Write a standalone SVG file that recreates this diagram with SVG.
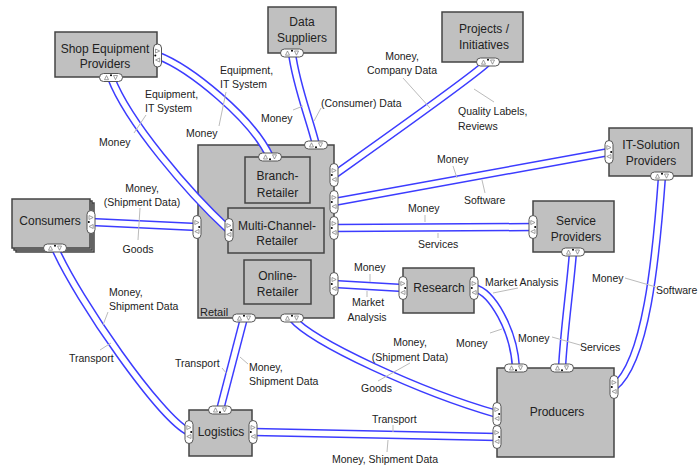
<svg xmlns="http://www.w3.org/2000/svg" xmlns:xlink="http://www.w3.org/1999/xlink" width="700" height="465" viewBox="0 0 700 465">
<style>
.n{fill:#c0c0c0;stroke:#444;stroke-width:1.5}
.t{font-family:"Liberation Sans",Arial,sans-serif;font-size:12px;fill:#222;text-anchor:middle}
.l{font-family:"Liberation Sans",Arial,sans-serif;font-size:10.5px;fill:#222}
.m{text-anchor:middle}
.ld{stroke:#bbb;stroke-width:1;fill:none}
.co{stroke:#3c3cff;stroke-width:8.5;fill:none}
.ci{stroke:#fff;stroke-width:5.5;fill:none}
.p{fill:#fff;stroke:#555;stroke-width:1}
.tr{fill:#fff;stroke:#777;stroke-width:0.7}
</style>
<defs>
<g id="pv">
<rect class="p" x="-4" y="-11.5" width="8" height="23" rx="4"/>
<polygon class="tr" points="-2,-6.5 2.2,-4.5 -2,-2.5"/>
<polygon class="tr" points="2.2,2.5 -2,4.5 2.2,6.5"/>
<circle cx="-2.2" cy="0" r="1" fill="#000"/>
</g>
<path id="p1" d="M157.5,55.5 C190,68 252,118 270,157"/>
<path id="p2" d="M111,77.5 C128,122 188,192 229,230"/>
<path id="p3" d="M292,53 C296,85 310,120 316,145"/>
<path id="p4" d="M488,62 C474,76 362,155 334,175"/>
<path id="p5" d="M334,202 L609,152"/>
<path id="p6" d="M334,228 L533,227"/>
<path id="p7" d="M334,284 L403,288"/>
<path id="p8" d="M474,288 C492,292 514,330 516,368"/>
<path id="p9" d="M573,252 C570,290 564,330 562,368"/>
<path id="p10" d="M662,176 C656,260 646,362 614,387"/>
<path id="p11" d="M91,222 L197,227"/>
<path id="p12" d="M55,248 C78,300 160,418 189,432"/>
<path id="p13" d="M244,318 L220,410"/>
<path id="p14" d="M292,318 C312,342 420,392 497,414"/>
<path id="p15" d="M253,432 L497,437"/>
</defs>
<rect width="700" height="465" fill="#fff"/>

<g id="retail">
<rect class="n" x="198" y="145" width="136" height="173"/>
<text x="200" y="316" font-family="Liberation Sans, Arial, sans-serif" font-size="11" fill="#222">Retail</text>
</g>
<g id="branch-retailer">
<rect class="n" x="245" y="157" width="65" height="46"/>
<text class="t" x="277.5" y="179.5">Branch-</text>
<text class="t" x="277.5" y="196.5">Retailer</text>
</g>
<g id="multi-channel-retailer">
<rect class="n" x="228" y="208" width="96" height="45"/>
<text class="t" x="277" y="229.5">Multi-Channel-</text>
<text class="t" x="277" y="244.5">Retailer</text>
</g>
<g id="online-retailer">
<rect class="n" x="244" y="260" width="67" height="44"/>
<text class="t" x="277.5" y="279.5">Online-</text>
<text class="t" x="277.5" y="295.5">Retailer</text>
</g>
<g id="shop-equipment-providers">
<rect class="n" x="55" y="32" width="102" height="45"/>
<text class="t" x="105" y="52.5">Shop Equipment</text>
<text class="t" x="105" y="68">Providers</text>
</g>
<g id="data-suppliers">
<rect class="n" x="268" y="7" width="68" height="46"/>
<text class="t" x="302" y="26">Data</text>
<text class="t" x="302" y="41.5">Suppliers</text>
</g>
<g id="projects-initiatives">
<rect class="n" x="442" y="12" width="81" height="50"/>
<text class="t" x="484" y="33">Projects /</text>
<text class="t" x="484" y="48.5">Initiatives</text>
</g>
<g id="it-solution-providers">
<rect class="n" x="609" y="128" width="83" height="48"/>
<text class="t" x="651" y="149">IT-Solution</text>
<text class="t" x="651" y="165">Providers</text>
</g>
<g id="service-providers">
<rect class="n" x="533" y="201" width="81" height="51"/>
<text class="t" x="576" y="225">Service</text>
<text class="t" x="576" y="241">Providers</text>
</g>
<g id="research">
<rect class="n" x="403" y="268" width="71" height="45"/>
<text class="t" x="439" y="292">Research</text>
</g>
<g id="producers">
<rect class="n" x="497" y="368" width="117" height="89"/>
<text class="t" x="557" y="416">Producers</text>
</g>
<g id="logistics">
<rect class="n" x="189" y="410" width="63" height="46"/>
<text class="t" x="221" y="436">Logistics</text>
</g>
<g id="consumers">
<rect class="n" x="16" y="203" width="78" height="49"/>
<rect class="n" x="14" y="201" width="78" height="49"/>
<rect class="n" x="12" y="199" width="78" height="49"/>
<text class="t" x="50" y="225">Consumers</text>
</g>

<g id="connectors">
<use href="#p1" class="co"/><use href="#p1" class="ci"/>
<use href="#p2" class="co"/><use href="#p2" class="ci"/>
<use href="#p3" class="co"/><use href="#p3" class="ci"/>
<use href="#p4" class="co"/><use href="#p4" class="ci"/>
<use href="#p5" class="co"/><use href="#p5" class="ci"/>
<use href="#p6" class="co"/><use href="#p6" class="ci"/>
<use href="#p7" class="co"/><use href="#p7" class="ci"/>
<use href="#p8" class="co"/><use href="#p8" class="ci"/>
<use href="#p9" class="co"/><use href="#p9" class="ci"/>
<use href="#p10" class="co"/><use href="#p10" class="ci"/>
<use href="#p11" class="co"/><use href="#p11" class="ci"/>
<use href="#p12" class="co"/><use href="#p12" class="ci"/>
<use href="#p13" class="co"/><use href="#p13" class="ci"/>
<use href="#p14" class="co"/><use href="#p14" class="ci"/>
<use href="#p15" class="co"/><use href="#p15" class="ci"/>
</g>

<g id="ports">
<use href="#pv" transform="translate(111,77.5) rotate(90)"/>
<use href="#pv" transform="translate(157.5,55.5)"/>
<use href="#pv" transform="translate(292,53) rotate(90)"/>
<use href="#pv" transform="translate(488,62) rotate(90)"/>
<use href="#pv" transform="translate(609,152) rotate(180)"/>
<use href="#pv" transform="translate(662,176) rotate(90)"/>
<use href="#pv" transform="translate(533,227) rotate(180)"/>
<use href="#pv" transform="translate(573,252) rotate(90)"/>
<use href="#pv" transform="translate(403,288) rotate(180)"/>
<use href="#pv" transform="translate(474,288)"/>
<use href="#pv" transform="translate(516,368) rotate(-90)"/>
<use href="#pv" transform="translate(562,368) rotate(-90)"/>
<use href="#pv" transform="translate(614,387)"/>
<use href="#pv" transform="translate(497,414) rotate(180)"/>
<use href="#pv" transform="translate(497,437) rotate(180)"/>
<use href="#pv" transform="translate(220,410) rotate(-90)"/>
<use href="#pv" transform="translate(189,432) rotate(180)"/>
<use href="#pv" transform="translate(253,432)"/>
<use href="#pv" transform="translate(91,222)"/>
<use href="#pv" transform="translate(55,248) rotate(90)"/>
<use href="#pv" transform="translate(316,145) rotate(-90)"/>
<use href="#pv" transform="translate(270,157) rotate(-90)"/>
<use href="#pv" transform="translate(334,175)"/>
<use href="#pv" transform="translate(334,202)"/>
<use href="#pv" transform="translate(334,228)"/>
<use href="#pv" transform="translate(334,284)"/>
<use href="#pv" transform="translate(197,227) rotate(180)"/>
<use href="#pv" transform="translate(229,230) rotate(180)"/>
<use href="#pv" transform="translate(244,318) rotate(90)"/>
<use href="#pv" transform="translate(292,318) rotate(90)"/>
</g>

<g id="labels">
<path class="ld" d="M226,92 L219,126 M146,115 L134,133 M293,110 L303,106 M321,108 L314,121 M403,78 L430,108 M474,89 L494,102 M453,166 L457,178 M482,180 L485,193 M425,215 L425,222 M438,233 L438,238 M370,274 L370,282 M367,291 L367,297 M493,293 L518,288 M490,333 L502,329 M552,337 L580,345 M625,278 L656,287 M140,208 L138,240 M108,312 L103,325 M100,350 L111,343 M222,368 L227,374 M240,357 L248,364 M410,363 L378,381 M393,425 L393,432 M388,440 L387,452"/>
<text class="l" x="220" y="74">Equipment,</text>
<text class="l" x="220" y="88">IT System</text>
<text class="l" x="186" y="137">Money</text>
<text class="l" x="145" y="98">Equipment,</text>
<text class="l" x="145" y="112">IT System</text>
<text class="l" x="99" y="146">Money</text>
<text class="l" x="261" y="122">Money</text>
<text class="l" x="321" y="107">(Consumer) Data</text>
<text class="l m" x="402" y="60">Money,</text>
<text class="l m" x="402" y="74">Company Data</text>
<text class="l" x="458" y="115">Quality Labels,</text>
<text class="l" x="458" y="130">Reviews</text>
<text class="l" x="437" y="163">Money</text>
<text class="l" x="464" y="204">Software</text>
<text class="l" x="408" y="212">Money</text>
<text class="l" x="418" y="248">Services</text>
<text class="l" x="354" y="271">Money</text>
<text class="l m" x="368" y="306">Market</text>
<text class="l m" x="367" y="321">Analysis</text>
<text class="l" x="485" y="286">Market Analysis</text>
<text class="l" x="456" y="347">Money</text>
<text class="l" x="518" y="342">Money</text>
<text class="l" x="580" y="351">Services</text>
<text class="l" x="592" y="282">Money</text>
<text class="l" x="656" y="294">Software</text>
<text class="l m" x="142" y="192">Money,</text>
<text class="l m" x="142" y="206">(Shipment Data)</text>
<text class="l m" x="138" y="253">Goods</text>
<text class="l" x="109" y="296">Money,</text>
<text class="l" x="109" y="310">Shipment Data</text>
<text class="l" x="69" y="362">Transport</text>
<text class="l" x="175" y="367">Transport</text>
<text class="l" x="249" y="371">Money,</text>
<text class="l" x="249" y="385">Shipment Data</text>
<text class="l m" x="410" y="346">Money,</text>
<text class="l m" x="410" y="361">(Shipment Data)</text>
<text class="l" x="361" y="392">Goods</text>
<text class="l" x="372" y="423">Transport</text>
<text class="l" x="332" y="463">Money, Shipment Data</text>
</g>
</svg>
